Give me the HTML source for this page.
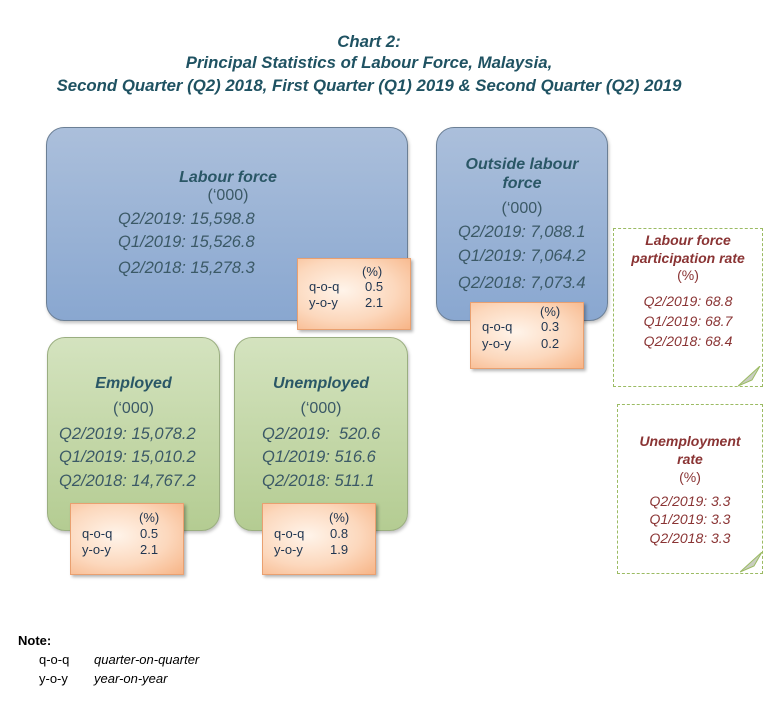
<!DOCTYPE html>
<html><head><meta charset="utf-8"><style>
body{margin:0;background:#fff;}
#c{position:relative;width:780px;height:705px;overflow:hidden;font-family:"Liberation Sans",sans-serif;}
.a{position:absolute;white-space:nowrap;line-height:18px;}
.ti{color:#1f5262;font-weight:bold;font-style:italic;font-size:16.8px;left:0;width:738px;text-align:center;line-height:20px;}
.box{position:absolute;border-radius:18px;border:1px solid #6b7f95;box-shadow:1px 2px 3px rgba(0,0,0,0.25);}
.blue{background:linear-gradient(#abbfdb,#89a7d0);}
.green{background:linear-gradient(#d4e3bf,#b4cc92);border-color:#9aae80;}
.or{position:absolute;background:radial-gradient(ellipse at 40% 45%,#fff4ea 0%,#fcd8bd 55%,#f7b486 100%);border:1px solid #e9a070;box-shadow:2px 2px 3px rgba(0,0,0,0.3);}
.h{color:#2a5766;font-weight:bold;font-style:italic;font-size:16px;text-align:center;}
.u{color:#3b5966;font-size:16px;text-align:center;}
.v{color:#3b5966;font-style:italic;font-size:16.5px;}
.s{color:#1f3550;font-size:13px;line-height:14px;}
.dash{position:absolute;border:1.5px dashed #9bbb63;background:#fff;}
.r{color:#8a3434;font-style:italic;font-size:14px;text-align:center;}
.rb{color:#8a3434;font-weight:bold;font-style:italic;font-size:14px;text-align:center;}
.ru{color:#8a3434;font-size:14px;text-align:center;}
</style></head><body><div id="c">
<div class="a ti" style="top:32px">Chart 2:</div>
<div class="a ti" style="top:53px">Principal Statistics of Labour Force, Malaysia,</div>
<div class="a ti" style="top:76px">Second Quarter (Q2) 2018, First Quarter (Q1) 2019 &amp; Second Quarter (Q2) 2019</div>

<div class="box blue" style="left:46px;top:127px;width:360px;height:192px"></div>
<div class="a h" style="left:128px;width:200px;top:169px">Labour force</div>
<div class="a u" style="left:128px;width:200px;top:187px">(‘000)</div>
<div class="a v" style="left:118px;top:210px">Q2/2019: 15,598.8</div>
<div class="a v" style="left:118px;top:233px">Q1/2019: 15,526.8</div>
<div class="a v" style="left:118px;top:259px">Q2/2018: 15,278.3</div>
<div class="or" style="left:297px;top:258px;width:112px;height:70px"></div>
<div class="a s" style="left:362px;top:265px">(%)</div>
<div class="a s" style="left:309px;top:280px">q-o-q</div><div class="a s" style="left:365px;top:280px">0.5</div>
<div class="a s" style="left:309px;top:296px">y-o-y</div><div class="a s" style="left:365px;top:296px">2.1</div>

<div class="box blue" style="left:436px;top:127px;width:170px;height:192px"></div>
<div class="a h" style="left:436px;width:172px;top:156px">Outside labour</div>
<div class="a h" style="left:436px;width:172px;top:175px">force</div>
<div class="a u" style="left:436px;width:172px;top:200px">(‘000)</div>
<div class="a v" style="left:458px;top:223px">Q2/2019: 7,088.1</div>
<div class="a v" style="left:458px;top:247px">Q1/2019: 7,064.2</div>
<div class="a v" style="left:458px;top:274px">Q2/2018: 7,073.4</div>
<div class="or" style="left:470px;top:302px;width:112px;height:65px"></div>
<div class="a s" style="left:540px;top:305px">(%)</div>
<div class="a s" style="left:482px;top:320px">q-o-q</div><div class="a s" style="left:541px;top:320px">0.3</div>
<div class="a s" style="left:482px;top:337px">y-o-y</div><div class="a s" style="left:541px;top:337px">0.2</div>

<div class="box green" style="left:47px;top:337px;width:171px;height:192px"></div>
<div class="a h" style="left:47px;width:173px;top:375px">Employed</div>
<div class="a u" style="left:47px;width:173px;top:400px">(‘000)</div>
<div class="a v" style="left:59px;top:425px">Q2/2019: 15,078.2</div>
<div class="a v" style="left:59px;top:448px">Q1/2019: 15,010.2</div>
<div class="a v" style="left:59px;top:472px">Q2/2018: 14,767.2</div>
<div class="or" style="left:70px;top:503px;width:112px;height:70px"></div>
<div class="a s" style="left:139px;top:511px">(%)</div>
<div class="a s" style="left:82px;top:527px">q-o-q</div><div class="a s" style="left:140px;top:527px">0.5</div>
<div class="a s" style="left:82px;top:543px">y-o-y</div><div class="a s" style="left:140px;top:543px">2.1</div>

<div class="box green" style="left:234px;top:337px;width:172px;height:192px"></div>
<div class="a h" style="left:234px;width:174px;top:375px">Unemployed</div>
<div class="a u" style="left:234px;width:174px;top:400px">(‘000)</div>
<div class="a v" style="left:262px;top:425px">Q2/2019:&nbsp; 520.6</div>
<div class="a v" style="left:262px;top:448px">Q1/2019: 516.6</div>
<div class="a v" style="left:262px;top:472px">Q2/2018: 511.1</div>
<div class="or" style="left:262px;top:503px;width:112px;height:70px"></div>
<div class="a s" style="left:329px;top:511px">(%)</div>
<div class="a s" style="left:274px;top:527px">q-o-q</div><div class="a s" style="left:330px;top:527px">0.8</div>
<div class="a s" style="left:274px;top:543px">y-o-y</div><div class="a s" style="left:330px;top:543px">1.9</div>

<div class="dash" style="left:613px;top:228px;width:148px;height:157px"></div>
<div class="a rb" style="left:613px;width:150px;top:231px">Labour force</div>
<div class="a rb" style="left:613px;width:150px;top:249px">participation rate</div>
<div class="a ru" style="left:613px;width:150px;top:266px">(%)</div>
<div class="a r" style="left:613px;width:150px;top:292px">Q2/2019: 68.8</div>
<div class="a r" style="left:613px;width:150px;top:312px">Q1/2019: 68.7</div>
<div class="a r" style="left:613px;width:150px;top:332px">Q2/2018: 68.4</div>
<svg class="a" style="left:738px;top:366px" width="26" height="22"><path d="M0 20 L22 0 L14 14 Z" fill="#c8cdbf" stroke="#9bbb63"/></svg>

<div class="dash" style="left:617px;top:404px;width:144px;height:168px"></div>
<div class="a rb" style="left:617px;width:146px;top:432px">Unemployment</div>
<div class="a rb" style="left:617px;width:146px;top:450px">rate</div>
<div class="a ru" style="left:617px;width:146px;top:468px">(%)</div>
<div class="a r" style="left:617px;width:146px;top:492px">Q2/2019: 3.3</div>
<div class="a r" style="left:617px;width:146px;top:510px">Q1/2019: 3.3</div>
<div class="a r" style="left:617px;width:146px;top:529px">Q2/2018: 3.3</div>
<svg class="a" style="left:740px;top:552px" width="26" height="22"><path d="M0 20 L22 0 L14 14 Z" fill="#c8cdbf" stroke="#9bbb63"/></svg>

<div class="a" style="left:18px;top:632px;font-size:13px;font-weight:bold;color:#000">Note:</div>
<div class="a" style="left:39px;top:651px;font-size:13px;color:#000">q-o-q</div>
<div class="a" style="left:94px;top:651px;font-size:13px;font-style:italic;color:#000">quarter-on-quarter</div>
<div class="a" style="left:39px;top:670px;font-size:13px;color:#000">y-o-y</div>
<div class="a" style="left:94px;top:670px;font-size:13px;font-style:italic;color:#000">year-on-year</div>
</div></body></html>
